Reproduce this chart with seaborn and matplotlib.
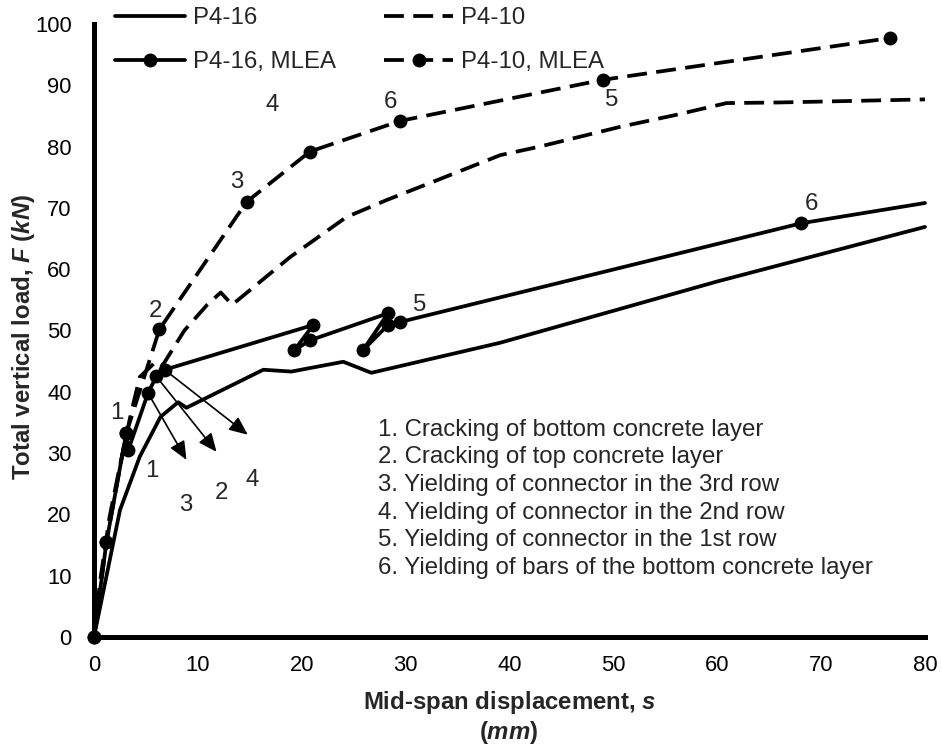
import matplotlib
matplotlib.use("Agg")
import matplotlib.pyplot as plt
import seaborn as sns
import numpy as np
import pandas as pd

# ---------------- data ----------------
p416_exp_s = [0, 2.5, 4.4, 6.4, 8.1, 8.9, 16.3, 19.0, 24.0, 26.7, 39.1, 60.0, 80.0]
p416_exp_F = [0, 20.7, 29.4, 35.9, 38.3, 37.4, 43.6, 43.3, 44.9, 43.1, 48.0, 58.0, 66.9]

p410_exp_s = [0, 0.6, 1.5, 2.5, 3.5, 4.4, 6.0, 6.6, 8.7, 10.9, 12.2, 13.3, 18.9, 24.3,
              28.2, 33.0, 39.1, 42.9, 50.6, 56.1, 60.9, 66.0, 80.0]
p410_exp_F = [0, 9.3, 19.6, 28.0, 36.0, 42.4, 45.0, 44.3, 50.0, 54.2, 56.2, 54.2, 62.0, 68.5,
              71.3, 74.5, 78.6, 80.0, 83.2, 85.2, 87.1, 87.2, 87.7]

p416_mlea_s = [0, 1.2, 3.1, 3.3, 5.2, 6.0, 6.8, 21.1, 19.3, 20.8, 28.3, 25.9, 28.3, 29.5, 68.1, 80.0]
p416_mlea_F = [0, 15.5, 33.2, 30.5, 39.8, 42.5, 43.6, 50.9, 46.8, 48.4, 52.8, 46.8, 50.9, 51.4, 67.5, 70.8]

p410_mlea_s = [0, 1.2, 3.1, 6.3, 14.7, 20.8, 29.5, 49.0, 76.6]
p410_mlea_F = [0, 15.5, 33.2, 50.2, 71.0, 79.2, 84.2, 90.9, 97.7]

series_labels = ["P4-16", "P4-10", "P4-16, MLEA", "P4-10, MLEA"]

event_numbers = ["1", "1", "2", "3", "2", "4", "3", "4", "6", "5", "5", "6"]
event_label_s = [2.2, 5.55, 5.9, 8.8, 12.3, 15.2, 13.7, 17.2, 28.5, 49.8, 31.4, 69.1]
event_label_F = [36.5, 27.0, 53.1, 21.5, 23.5, 25.6, 74.3, 86.8, 87.3, 87.6, 54.2, 70.7]

arrow_from_s = [5.2, 6.0, 6.8]
arrow_from_F = [39.8, 42.5, 43.6]
arrow_to_s = [8.9, 11.8, 14.8]
arrow_to_F = [28.9, 30.2, 33.0]

descriptions = [
    "1. Cracking of bottom concrete layer",
    "2. Cracking of top concrete layer",
    "3. Yielding of connector in the 3rd row",
    "4. Yielding of connector in the 2nd row",
    "5. Yielding of connector in the 1st row",
    "6. Yielding of bars of the bottom concrete layer",
]

x_ticks = [0, 10, 20, 30, 40, 50, 60, 70, 80]
y_ticks = [0, 10, 20, 30, 40, 50, 60, 70, 80, 90, 100]

# ---------------- style ----------------
sns.set_style("white")
plt.rcParams["font.family"] = ["Liberation Sans", "DejaVu Sans"]
plt.rcParams["mathtext.fontset"] = "custom"
plt.rcParams["mathtext.it"] = "Liberation Sans:italic:bold"
plt.rcParams["mathtext.rm"] = "Liberation Sans:bold"
plt.rcParams["mathtext.bf"] = "Liberation Sans:bold"

FS = 17.3      # labels, legend, annotations
TFS = 15.8     # tick labels
LW = 2.7
MS = 10
DASH = (0, (5.3, 2.5))

W, H = 942, 748
fig = plt.figure(figsize=(W / 100, H / 100), dpi=100)
x0, x1, y0, y1 = 94, 925, 24, 637
ax = fig.add_axes([x0 / W, 1 - y1 / H, (x1 - x0) / W, (y1 - y0) / H])

common = dict(color="black", linewidth=LW, sort=False, estimator=None, ax=ax, clip_on=False)

sns.lineplot(x=p416_exp_s, y=p416_exp_F, label=series_labels[0], **common)
sns.lineplot(x=p410_exp_s, y=p410_exp_F, label=series_labels[1], linestyle=DASH, **common)
sns.lineplot(x=p416_mlea_s, y=p416_mlea_F, label=series_labels[2], marker="o",
             markersize=MS, markeredgewidth=0, markeredgecolor="black",
             markevery=list(range(len(p416_mlea_s) - 1)), **common)
sns.lineplot(x=p410_mlea_s, y=p410_mlea_F, label=series_labels[3], linestyle=DASH, marker="o",
             markersize=MS, markeredgewidth=0, markeredgecolor="black", **common)

ax.set_xlim(0, 80)
ax.set_ylim(0, 100)
ax.set_xticks(x_ticks)
ax.set_yticks(y_ticks)
ax.tick_params(axis="both", length=0, labelsize=TFS, colors="black")
ax.tick_params(axis="x", pad=13)
ax.tick_params(axis="y", pad=16)
for side in ["top", "right"]:
    ax.spines[side].set_visible(False)
for side in ["left", "bottom"]:
    ax.spines[side].set_linewidth(3.6)
    ax.spines[side].set_color("black")
    ax.spines[side].set_zorder(1)

# arrows
for sx, sy, ex, ey in zip(arrow_from_s, arrow_from_F, arrow_to_s, arrow_to_F):
    ax.annotate("", xy=(ex, ey), xytext=(sx, sy),
                arrowprops=dict(arrowstyle="-|>,head_length=0.8,head_width=0.35",
                                color="black", lw=1.2, shrinkA=0, shrinkB=0,
                                mutation_scale=14))

# event numbers
for t, sx, sy in zip(event_numbers, event_label_s, event_label_F):
    ax.text(sx, sy, t, fontsize=FS, ha="center", va="center")

# description list
desc_F = [33.8, 29.4, 24.8, 20.2, 15.8, 11.3]
for t, fy in zip(descriptions, desc_F):
    ax.text(27.3, fy, t, fontsize=FS, ha="left", va="center")

# axis labels
ax.set_xlabel("Mid-span displacement, $s$", fontsize=FS, fontweight="bold")
ax.xaxis.set_label_coords(0.5, (y1 - 702) / (y1 - y0))
ax.xaxis.label.set_va("center")
fig.text(509 / W, 1 - 733 / H, r"$\mathit{(mm)}$", fontsize=FS, ha="center", va="center")

ax.set_ylabel(r"Total vertical load, $F$ $\mathit{(kN)}$", fontsize=FS, fontweight="bold")
ax.yaxis.set_label_coords((24 - x0) / (x1 - x0), (y1 - 337) / (y1 - y0))
ax.yaxis.label.set_va("center")

# legend
handles, labels = ax.get_legend_handles_labels()
order = [labels.index(l) for l in ["P4-16", "P4-16, MLEA", "P4-10", "P4-10, MLEA"]]
ax.legend([handles[i] for i in order], [labels[i] for i in order], ncol=2,
          loc="upper left", bbox_to_anchor=(115 / W, 1 - 7 / H), bbox_transform=fig.transFigure,
          frameon=False, fontsize=FS, handlelength=2.9, handletextpad=0.33,
          columnspacing=2.0, labelspacing=0.93, borderpad=0, borderaxespad=0)

fig.savefig("out.png", dpi=100)
